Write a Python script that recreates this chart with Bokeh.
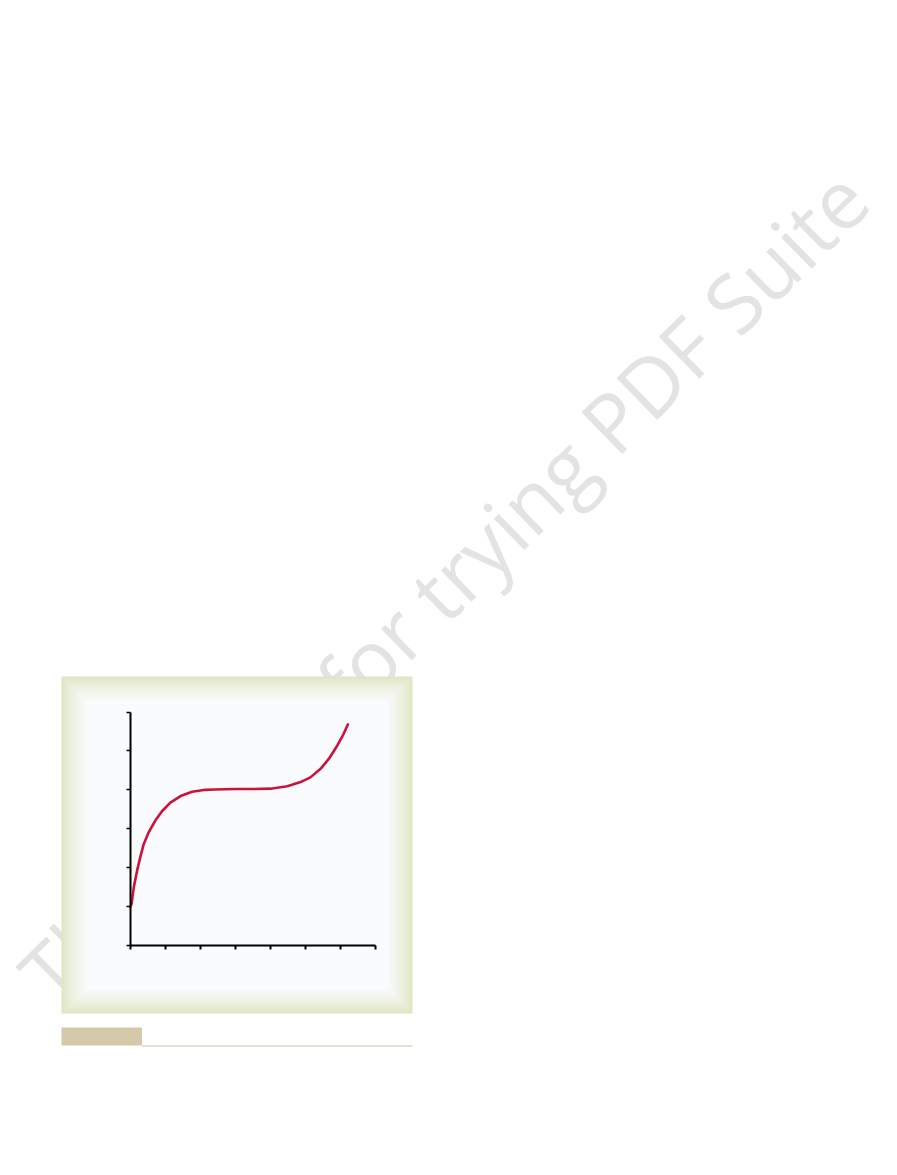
from bokeh.plotting import figure
from bokeh.models import Range1d, LinearAxis, FixedTicker
from bokeh.core.properties import value
from bokeh.embed import file_html
from bokeh.resources import INLINE

# ---- data ----
x_vals = [0, 0.03, 0.095, 0.19, 0.29, 0.38, 0.52, 0.71, 0.9, 1.14, 1.43, 1.76, 2.14, 2.41,
          3.0, 3.5, 4.0, 4.48, 4.86, 5.14, 5.43, 5.67, 5.91, 6.08, 6.21]
y_vals = [1.0, 1.07, 1.5, 1.93, 2.31, 2.61, 2.91, 3.21, 3.45, 3.67, 3.84, 3.95, 4.0, 4.01,
          4.02, 4.02, 4.03, 4.09, 4.2, 4.32, 4.54, 4.8, 5.14, 5.42, 5.68]
x_ticks = [0, 1, 2, 3, 4, 5, 6, 7]
y_ticks = [0, 1, 2, 3, 4, 5, 6]
watermark = "Thank you for trying PDF Suite"

# ---- page-sized canvas, page pixel coordinates ----
W, H = 881, 1159
p = figure(width=W, height=H, output_backend="svg", toolbar_location=None,
           x_axis_type=None, y_axis_type=None,
           x_range=Range1d(0, W), y_range=Range1d(H, 0),
           min_border=0, min_border_left=0, min_border_right=0,
           min_border_top=0, min_border_bottom=0)
p.outline_line_color = None
p.background_fill_color = "white"
p.border_fill_color = "white"
p.grid.visible = False

# chart ranges: origin at page (130, 945); 35 px per x unit, 38.9 px per y unit
ox, oy, kx, ky = 130.0, 945.0, 35.0, 233.5 / 6
p.extra_x_ranges = {"cx": Range1d((0 - ox) / kx, (W - ox) / kx)}
p.extra_y_ranges = {"cy": Range1d((oy - H) / ky, (oy - 0) / ky)}

# watermark (under the panel)
p.text(x=[33], y=[986], text=[watermark], angle=44.4, angle_units="deg",
       text_font=value("Open Sans"), text_font_size="81.5px", text_color="#e3e3e3",
       text_align="left", text_baseline="alphabetic")

# panel with soft green inner glow
L, T, R, B = 61, 676, 412, 1013
edge = (221, 229, 193)
inner = (250, 251, 253)
N = 26
for i in range(N):
    t = (i / (N - 1)) ** 0.75
    c = tuple(int(round(edge[k] + (inner[k] - edge[k]) * t)) for k in range(3))
    p.quad(left=[L + i], right=[R - i], top=[T + i], bottom=[B - i],
           fill_color="#%02x%02x%02x" % c, line_color=None)

# caption bar below panel
p.quad(left=[61], right=[141.5], top=[1027], bottom=[1045], fill_color="#d4c9a8", line_color=None)
p.segment(x0=[141.5], y0=[1045.5], x1=[412], y1=[1045.5], line_color="#cdc5a9", line_width=1)

# curve
p.line(x=x_vals, y=y_vals, x_range_name="cx", y_range_name="cy",
       line_color="#c8143c", line_width=2.6, line_join="round", line_cap="round")

# axes crossing at the origin
xa = LinearAxis(x_range_name="cx", y_range_name="cy", fixed_location=0, bounds=(0, 7),
                ticker=FixedTicker(ticks=x_ticks),
                major_label_overrides={t: "" for t in x_ticks})
xa.axis_line_color = "black"
xa.axis_line_width = 2
xa.major_tick_line_color = "black"
xa.major_tick_line_width = 2
xa.major_tick_in = 0
xa.major_tick_out = 4
xa.minor_tick_line_color = None
xa.major_label_text_color = None
p.add_layout(xa, "below")

ya = LinearAxis(x_range_name="cx", y_range_name="cy", fixed_location=0, bounds=(0, 6),
                ticker=FixedTicker(ticks=y_ticks),
                major_label_overrides={t: "" for t in y_ticks})
ya.axis_line_color = "black"
ya.axis_line_width = 2
ya.major_tick_line_color = "black"
ya.major_tick_line_width = 1.5
ya.major_tick_in = 0
ya.major_tick_out = 4
ya.minor_tick_line_color = None
ya.major_label_text_color = None
p.add_layout(ya, "left")

open("out.html", "w").write(file_html(p, INLINE))
